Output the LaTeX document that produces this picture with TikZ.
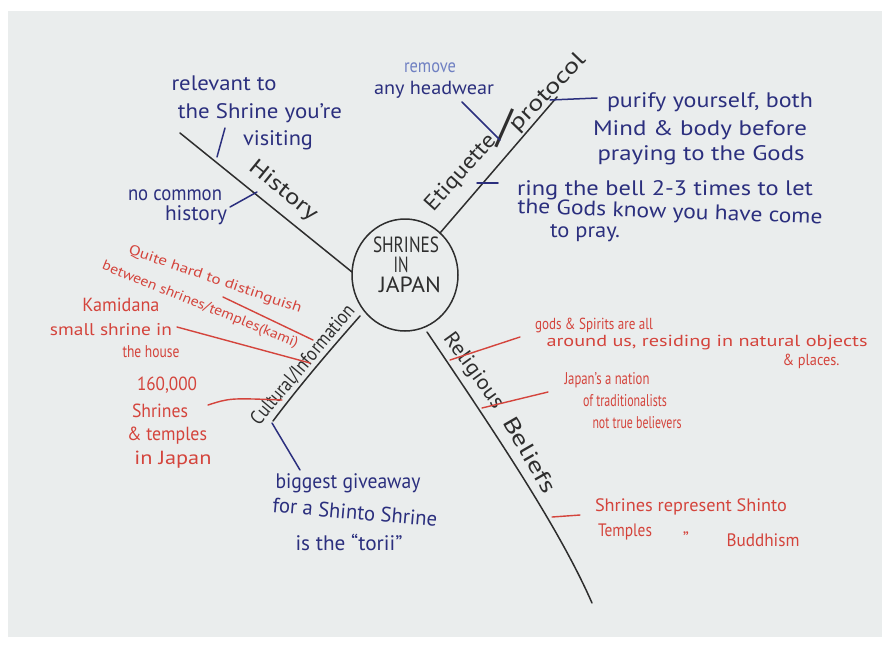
\documentclass[tikz,border=0pt]{standalone}
\usepackage{graphicx}
\usepackage{fontspec}
\setmainfont{PT Sans}
\usetikzlibrary{shapes.geometric}
\definecolor{board}{HTML}{EAEDED}
\definecolor{navy}{HTML}{2B2F7E}
\definecolor{lblue}{HTML}{6F80C2}
\definecolor{mred}{HTML}{D4443C}
\definecolor{ink}{HTML}{2E2E2E}
\newcommand\fw[2]{\resizebox{#1pt}{\height}{#2}}
\begin{document}
\begin{tikzpicture}[x=1pt,y=-1pt,
  nv/.style={inner sep=0pt,text=navy,font=\fontsize{#1}{#1}\selectfont},nv/.default=21,
  lb/.style={inner sep=0pt,text=lblue,font=\fontsize{#1}{#1}\selectfont},lb/.default=19,
  rd/.style={inner sep=0pt,text=mred,font=\fontsize{#1}{#1}\selectfont},rd/.default=18,
  bk/.style={inner sep=0pt,text=ink,font=\fontsize{#1}{#1}\selectfont},bk/.default=21,
  inkline/.style={draw=ink,line width=1.5pt,line cap=round},
  nvline/.style={draw=navy,line width=1.5pt,line cap=round},
  rdline/.style={draw=mred,line width=1.4pt,line cap=round}]
\useasboundingbox (0,0) rectangle (882,646);
\fill[white] (0,0) rectangle (882,646);
\fill[board] (8,11) rectangle (882,637);

% centre
\node[ellipse,draw=ink,line width=1.5pt,minimum width=106pt,minimum height=112pt,inner sep=0pt] (core) at (405,275) {};
\node[bk=22] (c1) at (406,245) {\fw{66}{SHRINES}};
\node[bk=22] (c2) at (401,265) {\fw{15}{IN}};
\node[bk=22] (c3) at (410,285) {\fw{62}{JAPAN}};

% main branches
\coordinate (hisA) at (352,272); \coordinate (hisB) at (180,133);
\coordinate (etqA) at (440,233); \coordinate (etqB) at (557,97);
\coordinate (culA) at (360,316); \coordinate (culB) at (273,421);
\coordinate (relA) at (427,332); \coordinate (relB) at (592,603);
\draw[inkline] (hisA) -- (hisB);
\draw[inkline] (etqA) -- (etqB);
\draw[inkline] (culA) .. controls (330,350) and (300,385) .. (culB);
\draw[inkline] (relA) .. controls (500,440) and (560,530) .. (relB);

\node[bk=22,rotate=-39] (lHis) at (283,191) {\fw{82}{History}};
\node[bk=22,rotate=48] (lEtq) at (461,173) {\fw{95}{Etiquette}};
\node[bk=46] (lSl) at (505,128) {/};
\node[bk=22,rotate=46] (lPro) at (548,93) {\fw{100}{protocol}};
\node[bk=20,rotate=50] (lCul) at (303,365) {\fw{150}{Cultural/Information}};
\node[bk=21,rotate=-54] (lRel1) at (473,371) {\fw{88}{Religious}};
\node[bk=22,rotate=-60] (lRel2) at (530,455) {\fw{85}{Beliefs}};

% History leaves (navy)
\coordinate (rv1) at (217,157); \coordinate (rv2) at (225,128);
\draw[nvline] (rv1) -- (rv2);
\node[nv] (rv3) at (224,83) {\fw{105}{relevant to}};
\node[nv] (rv4) at (260,113) {\fw{164}{the Shrine you're}};
\node[nv] (rv5) at (278,140) {\fw{70}{visiting}};
\coordinate (nc1) at (230,207); \coordinate (nc2) at (257,192);
\draw[nvline] (nc1) -- (nc2);
\node[nv] (nc3) at (175,195) {\fw{94}{no common}};
\node[nv] (nc4) at (196,215) {\fw{62}{history}};

% Etiquette leaves
\coordinate (hw1) at (462,102); \coordinate (hw2) at (500,140);
\draw[nvline] (hw1) -- (hw2);
\node[lb] (hw3) at (430,68) {\fw{52}{remove}};
\node[nv=19] (hw4) at (434,90) {\fw{120}{any headwear}};
\coordinate (pu1) at (550,100); \coordinate (pu2) at (597,98);
\draw[nvline] (pu1) -- (pu2);
\node[nv] (pu3) at (710,102) {\fw{206}{purify yourself, both}};
\node[nv] (pu4) at (700,130) {\fw{214}{Mind \& body before}};
\node[nv] (pu5) at (701,155) {\fw{207}{praying to the Gods}};
\coordinate (rb1) at (477,183); \coordinate (rb2) at (498,183);
\draw[nvline] (rb1) -- (rb2);
\node[nv] (rb3) at (665,190) {\fw{296}{ring the bell 2-3 times to let}};
\node[nv,rotate=-2] (rb4) at (670,213) {\fw{305}{the Gods know you have come}};
\node[nv] (rb5) at (585,233) {\fw{70}{to pray.}};

% Cultural leaves
\coordinate (qh1) at (223,297); \coordinate (qh2) at (313,340);
\draw[rdline] (qh1) -- (qh2);
\node[rd=14,rotate=-19] (qh3) at (215,280) {\fw{182}{Quite hard to distinguish}};
\node[rd=14,rotate=-22] (qh4) at (200,305) {\fw{210}{between shrines/temples(kami)}};
\coordinate (km1) at (177,327); \coordinate (km2) at (310,363);
\draw[rdline] (km1) -- (km2);
\node[rd=19] (km3) at (121,305) {\fw{77}{Kamidana}};
\node[rd=17] (km4) at (111,330) {\fw{122}{small shrine in}};
\node[rd=17] (km5) at (151,352) {\fw{57}{the house}};
\coordinate (sx1) at (208,405); \coordinate (sx2) at (282,400);
\draw[rdline] (sx1) .. controls (230,398) .. (sx2);
\node[rd=19] (sx3) at (167,385) {\fw{60}{160,000}};
\node[rd=19] (sx4) at (160,411) {\fw{56}{Shrines}};
\node[rd=19] (sx5) at (167,436) {\fw{80}{\& temples}};
\node[rd=19] (sx6) at (173,460) {\fw{77}{in Japan}};
\coordinate (to1) at (272,423); \coordinate (to2) at (300,470);
\draw[nvline] (to1) -- (to2);
\node[nv] (to3) at (348,483) {\fw{145}{biggest giveaway}};
\node[nv,rotate=-5] (to4) at (355,512) {\fw{165}{for a Shinto Shrine}};
\node[nv] (to5) at (349,542) {\fw{107}{is the “torii”}};

% Religious leaves
\coordinate (gs1) at (450,360); \coordinate (gs2) at (520,337);
\draw[rdline] (gs1) -- (gs2);
\node[rd=16] (gs3) at (594,325) {\fw{118}{gods \& Spirits are all}};
\node[rd=16] (gs4) at (707,343) {\fw{321}{around us, residing in natural objects}};
\node[rd=16] (gs5) at (811,361) {\fw{57}{\& places.}};
\coordinate (jn1) at (482,408); \coordinate (jn2) at (548,392);
\draw[rdline] (jn1) -- (jn2);
\node[rd=17] (jn3) at (607,380) {\fw{85}{Japan's a nation}};
\node[rd=17] (jn4) at (625,401) {\fw{84}{of traditionalists}};
\node[rd=17] (jn5) at (637,423) {\fw{89}{not true believers}};
\coordinate (sr1) at (552,517); \coordinate (sr2) at (580,515);
\draw[rdline] (sr1) -- (sr2);
\node[rd=18] (sr3) at (691,507) {\fw{192}{Shrines represent Shinto}};
\node[rd=18] (sr4) at (625,532) {\fw{54}{Temples}};
\node[rd=18] (sr5) at (686,538) {"};
\node[rd=18] (sr6) at (763,540) {\fw{73}{Buddhism}};
\end{tikzpicture}
\end{document}
